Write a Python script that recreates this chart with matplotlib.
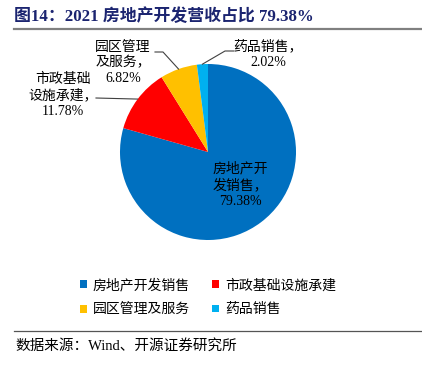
import matplotlib
matplotlib.use("Agg")
import numpy as np
import matplotlib.pyplot as plt
from matplotlib.patches import Patch
from matplotlib.lines import Line2D

categories = ["房地产开发销售", "市政基础设施承建", "园区管理及服务", "药品销售"]
values = [79.38, 11.78, 6.82, 2.02]
colors = ["#0070C0", "#FF0000", "#FFC000", "#00B0F0"]
label_texts = ["房地产开\n发销售，\n79.38%", "市政基础\n设施承建，\n11.78%",
               "园区管理\n及服务，\n6.82%", "药品销售，\n2.02%"]
title = "图14：2021 房地产开发营收占比 79.38%"
source = "数据来源：Wind、开源证券研究所"

FAM = ["Liberation Serif", "Noto Sans CJK SC", "DejaVu Sans"]
plt.rcParams['font.family'] = FAM

W, H = 422, 369
fig = plt.figure(figsize=(W / 100, H / 100), dpi=100)

cx, cy, R = 208, 152, 88
ax = fig.add_axes([(cx - R) / W, (H - cy - R) / H, 2 * R / W, 2 * R / H])
wedges, _ = ax.pie(values, colors=colors, startangle=90, counterclock=False,
                   radius=1.0, wedgeprops=dict(linewidth=0))
ax.set_xlim(-1, 1)
ax.set_ylim(-1, 1)
ax.set_aspect('equal')
ax.axis('off')

def d(px, py):
    return ((px - cx) / R, (cy - py) / R)

def mid(w):
    a = np.deg2rad((w.theta1 + w.theta2) / 2)
    return (w.r * np.cos(a), w.r * np.sin(a))

fs = 10
ls = 1.25
lc = '#404040'
# inside label
ax.text(*d(240, 185), label_texts[0], ha='center', va='center', fontsize=fs,
        linespacing=ls, color='black')
# 市政
ax.text(*d(63, 95), label_texts[1], ha='center', va='center', fontsize=fs,
        linespacing=ls, clip_on=False)
p = mid(wedges[1])
e = d(96, 98)
ax.plot([e[0], p[0]], [e[1], p[1]], color=lc, lw=0.8, clip_on=False)
# 园区
ax.text(*d(123, 63), label_texts[2], ha='center', va='center', fontsize=fs,
        linespacing=ls, clip_on=False)
p = mid(wedges[2])
e1, e2 = d(155, 52), d(163, 52)
ax.plot([e1[0], e2[0], p[0]], [e1[1], e2[1], p[1]], color=lc, lw=0.8, clip_on=False)
# 药品
ax.text(*d(268, 54), label_texts[3], ha='center', va='center', fontsize=fs,
        linespacing=ls, clip_on=False)
p = mid(wedges[3])
e1, e2 = d(234, 51), d(225, 51)
ax.plot([e1[0], e2[0], p[0]], [e1[1], e2[1], p[1]], color=lc, lw=0.8, clip_on=False)

# title
fig.text(14 / W, 1 - 17 / H, title, ha='left', va='center', fontsize=12.2,
         fontweight='bold', color='#1B2470')
fig.add_artist(Line2D([14 / W, 1.0], [1 - 29 / H, 1 - 29 / H], color='#808080', lw=1.6))
fig.add_artist(Line2D([14 / W, 1.0], [1 - 331 / H, 1 - 331 / H], color='#555555', lw=0.9))
fig.text(15 / W, 1 - 346 / H, source, ha='left', va='center', fontsize=10.5, color='black')

order = [0, 2, 1, 3]
handles = [Patch(facecolor=colors[i], edgecolor='none') for i in order]
labels = [categories[i] for i in order]
leg = fig.legend(handles, labels, ncol=2, loc='center',
                 bbox_to_anchor=(208 / W, 1 - 297.5 / H), frameon=False, fontsize=10,
                 handlelength=0.5, handleheight=0.5, handletextpad=0.45,
                 columnspacing=1.6, labelspacing=0.8)

fig.savefig("out.png", dpi=100)
